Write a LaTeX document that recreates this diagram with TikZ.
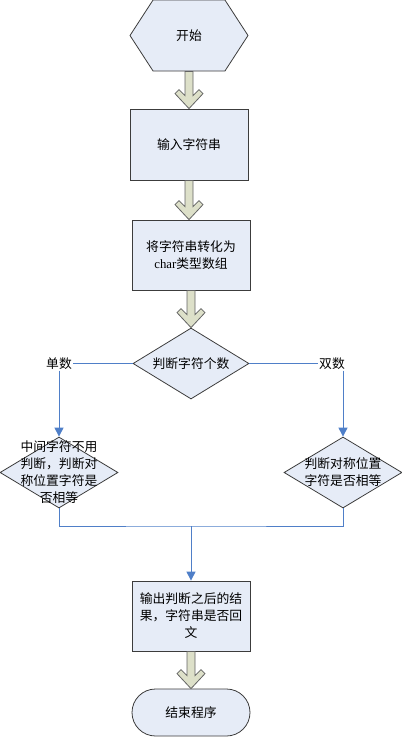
\documentclass[tikz,border=0pt]{standalone}
\usepackage{fontspec}
\setmainfont{Liberation Serif}
\newfontfamily\cjk{Noto Sans CJK SC}
\usetikzlibrary{calc,arrows.meta,shapes.geometric,shapes.symbols,shapes.misc}
\definecolor{boxfill}{HTML}{E6ECF7}
\definecolor{boxline}{HTML}{3C3C3C}
\definecolor{fatfill}{HTML}{DDE0C9}
\definecolor{linkblue}{HTML}{4F7FC8}
\def\fatarrow(#1)(#2){\draw[fatarr] ($(#1.south)+(-4,0)$) -- ($(#1.south |- #2.north)+(-4,-13)$) -- ($(#1.south |- #2.north)+(-10,-19)$) -- ($(#1.south |- #2.north)+(-14,-15)$) -- (#1.south |- #2.north) -- ($(#1.south |- #2.north)+(14,-15)$) -- ($(#1.south |- #2.north)+(10,-19)$) -- ($(#1.south |- #2.north)+(4,-13)$) -- ($(#1.south)+(4,0)$) -- cycle;}

\begin{document}
\begin{tikzpicture}[x=1pt,y=-1pt,
	every node/.style={font=\cjk\fontsize{12.8}{17}\selectfont},
	blk/.style={draw=boxline,fill=boxfill,line width=0.8pt,inner sep=0pt,align=center},
	txt/.style={align=center,inner sep=0pt},
	fatarr/.style={draw=boxline!80,fill=fatfill,line width=0.8pt,line join=miter},
	conn/.style={draw=linkblue,line width=1pt},
	arr/.style={conn,-{Triangle[length=9pt,width=9pt]}}]
			%%%%% START %%%%%
			\def\xm{191}
			\def\xl{59}
			\def\xr{343}
			\def\yjudge{363.5}
			\def\yside{472.5}
			\def\ymerge{526}
			
			\useasboundingbox (0,0) rectangle (402,737);
			
			\node[blk,signal,signal to=east and west,signal pointer angle=114,minimum width=118,minimum height=71] (start) at (189,35.5) {开始};
			\node[blk,rectangle,minimum width=118,minimum height=71] (input) at (189,144.5) {输入字符串};
			\node[blk,rectangle,minimum width=118,minimum height=70] (conv) at (\xm,255) {将字符串转化为\\{\rmfamily char}类型数组};
			\node[blk,diamond,minimum width=116,minimum height=71] (judge) at (\xm,\yjudge) {};
			\node[txt] at (judge) {判断字符个数};
			
			\node[txt,inner sep=1pt] (odd) at (\xl,\yjudge) {单数};
			\node[txt,inner sep=1pt] (even) at (332,\yjudge) {双数};
			
			\node[blk,diamond,minimum width=118,minimum height=71] (oddj) at (\xl,\yside) {};
			\node[txt] at (oddj) {中间字符不用\\判断，判断对\\称位置字符是\\否相等};
			\node[blk,diamond,minimum width=118,minimum height=71] (evenj) at (\xr,\yside) {};
			\node[txt] at (evenj) {判断对称位置\\字符是否相等};
			
			\coordinate (merge) at (\xm,\ymerge);
			\node[blk,rectangle,minimum width=118,minimum height=70] (out) at (\xm,616) {输出判断之后的结\\果，字符串是否回\\文};
			\node[blk,rounded rectangle,minimum width=118,minimum height=47] (end) at (\xm,712.5) {结束程序};
			
			\fatarrow(start)(input)
			\fatarrow(input)(conv)
			\fatarrow(conv)(judge)
			\fatarrow(out)(end)
			
			\draw[conn] (judge.west) -- (odd.east);
			\draw[arr] (odd.south) -- (oddj.north);
			\draw[conn] (judge.east) -- (even.west);
			\draw[arr] (even.south -| evenj.north) -- (evenj.north);
			\draw[conn] (oddj.south) |- (merge) -| (evenj.south);
			\draw[arr] (merge) -- (out.north);
			%%%%% END %%%%%
\end{tikzpicture}
\end{document}
